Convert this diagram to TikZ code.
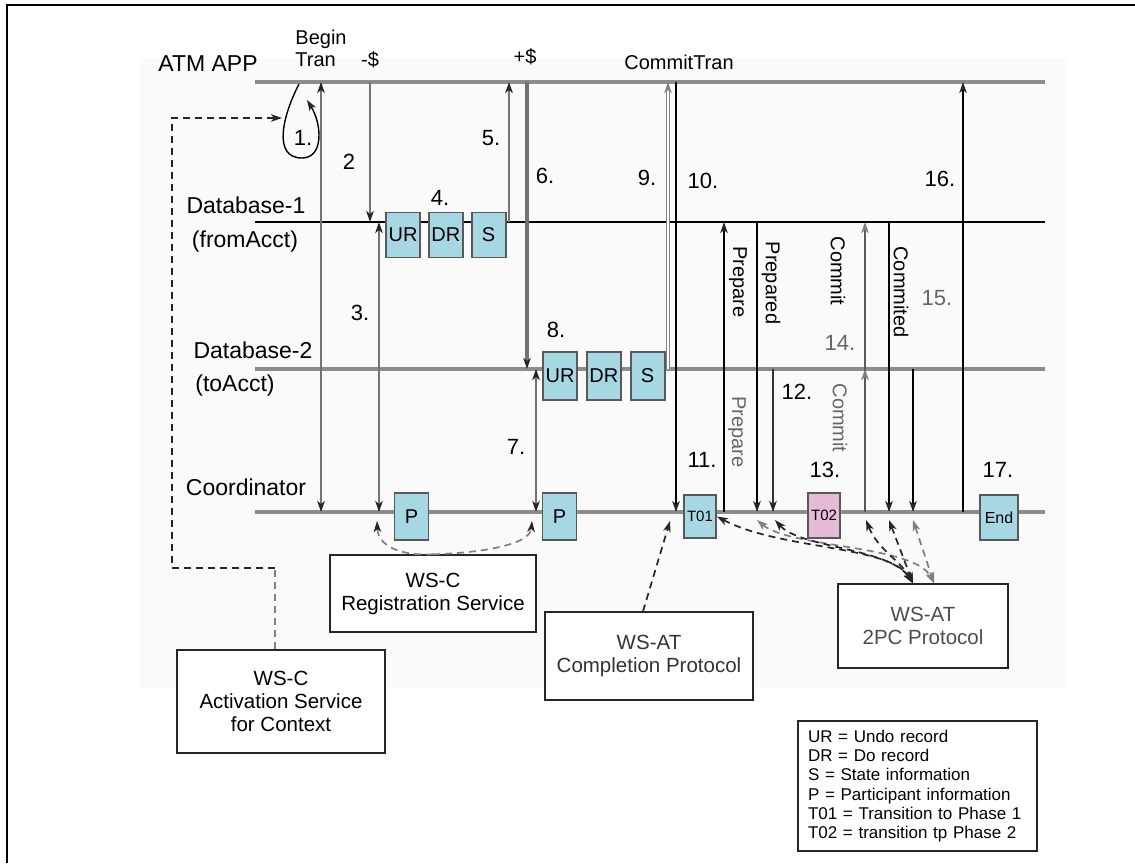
\documentclass[tikz,border=0pt]{standalone}
\usepackage{fontspec}
\setmainfont{Liberation Sans}
\usetikzlibrary{arrows.meta,positioning}
\definecolor{recblue}{RGB}{166,216,228}
\definecolor{trpink}{RGB}{228,186,214}
\tikzset{
  bh/.tip         = {Stealth[length=11pt,width=7.5pt,inset=3pt,color=black!85]},
  gh/.tip         = {Stealth[length=11pt,width=7.5pt,inset=3pt,color=black!50]},
  lifeline/.style = {line width=4.5pt, black!45},
  gmsg/.style     = {line width=2.6pt, black!55},
  bmsg/.style     = {line width=1.6pt, black},
  dblmsg/.style   = {line width=1.2pt, black!50, double=white, double distance=1.8pt},
  dashline/.style = {dash pattern=on 7pt off 5pt, line width=1.7pt, black!85},
  dashgray/.style = {dashline, black!50},
  recbox/.style   = {draw=black!65, line width=1.8pt, fill=recblue, inner sep=1pt,
                     minimum width=34, minimum height=45, font=\fontsize{20}{22}\selectfont},
  txtbox/.style   = {draw=black!85, line width=1.4pt, fill=white, align=center,
                     font=\fontsize{20.5}{23}\selectfont},
  lbl/.style      = {font=\fontsize{23}{26}\selectfont},
  msgtxt/.style   = {font=\fontsize{20}{22}\selectfont},
  numlbl/.style   = {font=\fontsize{22}{24}\selectfont}
}
\begin{document}
\begin{tikzpicture}[x=1pt,y=-1pt]
  \useasboundingbox (0,0) rectangle (1135,863);
  \fill[black!2] (140,58) rectangle (1067,688);
  \draw[line width=1.6pt] (7,863) -- (7,5) -- (1135,5);

  % lifelines
  \coordinate (atm) at (0,82);
  \coordinate (db1) at (0,222);
  \coordinate (db2) at (0,369);
  \coordinate (crd) at (0,512);
  \draw[lifeline] ([xshift=255]atm) -- ([xshift=1045]atm);
  \draw[line width=1.8pt] ([xshift=255]db1) -- ([xshift=1045]db1);
  \draw[lifeline] ([xshift=255]db2) -- ([xshift=1045]db2);
  \draw[lifeline] ([xshift=255]crd) -- ([xshift=1045]crd);
  \node[lbl] (atmlbl) at (208,64) {ATM APP};
  \node[lbl] (db1lbl) at (246,205) {Database-1};
  \node[lbl] (db1sub) at (245,242) {(fromAcct)};
  \node[lbl] (db2lbl) at (253,350) {Database-2};
  \node[lbl] (db2sub) at (235,386) {(toAcct)};
  \node[lbl] (crdlbl) at (246,487) {Coordinator};

  % records
  \node[recbox] (ur1) at (403,235) {UR};
  \node[recbox,right=7pt of ur1] (dr1) {DR};
  \node[recbox,right=7pt of dr1] (s1) {S};
  \node[recbox,minimum height=48] (ur2) at (560,376) {UR};
  \node[recbox,minimum height=48,right=8pt of ur2] (dr2) {DR};
  \node[recbox,minimum height=48,right=8pt of dr2] (s2) {S};
  \node[recbox,minimum height=47] (p1) at (411.5,516.5) {P};
  \node[recbox,minimum height=47] (p2) at (559.5,516.5) {P};
  \node[recbox,minimum width=32,minimum height=43,
        font=\fontsize{15}{17}\selectfont] (t01) at (700,516.5) {T01};
  \node[recbox,fill=trpink,minimum width=32,minimum height=45,
        font=\fontsize{15}{17}\selectfont] (t02) at (824,515.5) {T02};
  \node[recbox,minimum width=38,minimum height=45,
        font=\fontsize{16}{18}\selectfont] (endbox) at (999,517.5) {End};

  % messages
  \draw[line width=1.4pt,-bh] (299,84) .. controls (283,115) and (272,158) .. (302,158)
        .. controls (324,158) and (322,124) .. (307,100);
  \draw[gmsg,bh-bh] ([xshift=321]atm) -- ([xshift=321]crd);
  \draw[gmsg,-bh] ([xshift=370]atm) -- ([xshift=370]db1);
  \draw[gmsg,bh-bh] ([xshift=379]db1) -- ([xshift=379]crd);
  \draw[gmsg,line width=2pt,-bh] ([xshift=509]db1) -- ([xshift=509]atm);
  \draw[gmsg,line width=3.2pt,-bh] ([xshift=527]atm) -- ([xshift=527]db2);
  \draw[gmsg,bh-bh] ([xshift=536]db2) -- ([xshift=536]crd);
  \draw[dblmsg,-gh] ([xshift=668]db2) -- ([xshift=668]atm);
  \draw[bmsg,-bh] ([xshift=676]atm) -- ([xshift=676]crd);
  \draw[bmsg,-bh] ([xshift=724]crd) -- ([xshift=724]db1);
  \draw[bmsg,-bh] ([xshift=757]db1) -- ([xshift=757]crd);
  \draw[bmsg,black!80,-bh] ([xshift=773]db2) -- ([xshift=773]crd);
  \draw[bmsg,black!65,-gh] ([xshift=865]crd) -- ([xshift=865]db1);
  \draw[bmsg,black!65,-gh] ([xshift=865]crd) -- ([xshift=865]db2);
  \draw[bmsg,-bh] ([xshift=889]db1) -- ([xshift=889]crd);
  \draw[bmsg,-bh] ([xshift=913]db2) -- ([xshift=913]crd);
  \draw[bmsg,-bh] ([xshift=963]crd) -- ([xshift=963]atm);

  \node[msgtxt,align=left] (begin) at (321,48) {Begin\\Tran};
  \node[msgtxt] (minus) at (370,60) {-\$};
  \node[msgtxt] (plus) at (525,57) {+\$};
  \node[msgtxt] (ctran) at (679,62) {CommitTran};
  \node[msgtxt,rotate=-90] (prep1) at (738,282) {Prepare};
  \node[msgtxt,rotate=-90] (prpd1) at (771,283) {Prepared};
  \node[msgtxt,rotate=-90] (cmt1) at (838,271) {Commit};
  \node[msgtxt,rotate=-90] (cmtd1) at (901,292) {Commited};
  \node[msgtxt,rotate=-90,black!60] (prep2) at (737,432) {Prepare};
  \node[msgtxt,rotate=-90,black!60] (cmt2) at (840,418) {Commit};

  \node[numlbl] (n1) at (303,138) {1.};
  \node[numlbl] (n2) at (349,162) {2};
  \node[numlbl] (n3) at (360,313) {3.};
  \node[numlbl] (n4) at (440,198) {4.};
  \node[numlbl] (n5) at (491,138) {5.};
  \node[numlbl] (n6) at (545,176) {6.};
  \node[numlbl] (n7) at (516,447) {7.};
  \node[numlbl] (n8) at (556,330) {8.};
  \node[numlbl] (n9) at (647,178) {9.};
  \node[numlbl] (n10) at (703,181) {10.};
  \node[numlbl] (n11) at (702,460) {11.};
  \node[numlbl] (n12) at (797,392) {12.};
  \node[numlbl] (n13) at (825,470) {13.};
  \node[numlbl,black!60] (n14) at (840,343) {14.};
  \node[numlbl,black!60] (n15) at (937,298) {15.};
  \node[numlbl] (n16) at (940,179) {16.};
  \node[numlbl] (n17) at (998,470) {17.};

  % services
  \node[txtbox,minimum width=206,minimum height=77] (reg) at (433,593.5)
       {WS-C\\Registration Service};
  \node[txtbox,minimum width=208,minimum height=103] (act) at (281,701.5)
       {WS-C\\Activation Service\\for Context};
  \node[txtbox,text=black!80,minimum width=208,minimum height=88] (comp) at (649,656)
       {WS-AT\\Completion Protocol};
  \node[txtbox,text=black!70,minimum width=170,minimum height=84] (tpc) at (923,626)
       {WS-AT\\2PC Protocol};
  \node[draw=black!85,line width=1.3pt,text width=219,inner xsep=10,inner ysep=6,
        minimum height=130,align=left,font=\fontsize{17}{19.3}\selectfont] (legend) at (917.5,786)
       {UR = Undo record\\DR = Do record\\S = State information\\P = Participant information\\
        T01 = Transition to Phase 1\\T02 = transition tp Phase 2};

  % service links
  \coordinate (loopin) at (282,118);
  \draw[dashgray] ([xshift=-6]act.north) -- ++(0,-81) coordinate (actup);
  \draw[dashline,-bh] (actup) -| (172,118) -- (loopin);
  \coordinate (pa) at (377,521);
  \coordinate (pb) at (532,521);
  \draw[dashgray,-bh] (reg.north) .. controls (398,556) and (378,545) .. (pa);
  \draw[dashgray,-bh] (reg.north) .. controls (480,553) and (530,545) .. (pb);
  \coordinate (ta) at (670,521);
  \draw[dashline,-bh] ([xshift=-6]comp.north) -- (ta);
  \coordinate (qa) at (757,520);
  \coordinate (qb) at (775,520);
  \coordinate (qc) at (866,520);
  \coordinate (qd) at (889,520);
  \coordinate (qe) at (913,520);
  \draw[dashline,bh-bh] (t01.east) .. controls (780,550) and (890,545) .. ([xshift=-10]tpc.north);
  \draw[dashgray,gh-gh] (qa) .. controls (790,548) and (915,545) .. ([xshift=11]tpc.north);
  \draw[dashline,bh-bh] (qb) .. controls (800,548) and (890,548) .. ([xshift=-10]tpc.north);
  \draw[dashline,bh-bh] (qc) .. controls (878,550) and (900,560) .. ([xshift=-10]tpc.north);
  \draw[dashline,bh-bh] (qd) -- ([xshift=-10]tpc.north);
  \draw[dashgray,gh-gh] (qe) -- ([xshift=11]tpc.north);
\end{tikzpicture}
\end{document}
